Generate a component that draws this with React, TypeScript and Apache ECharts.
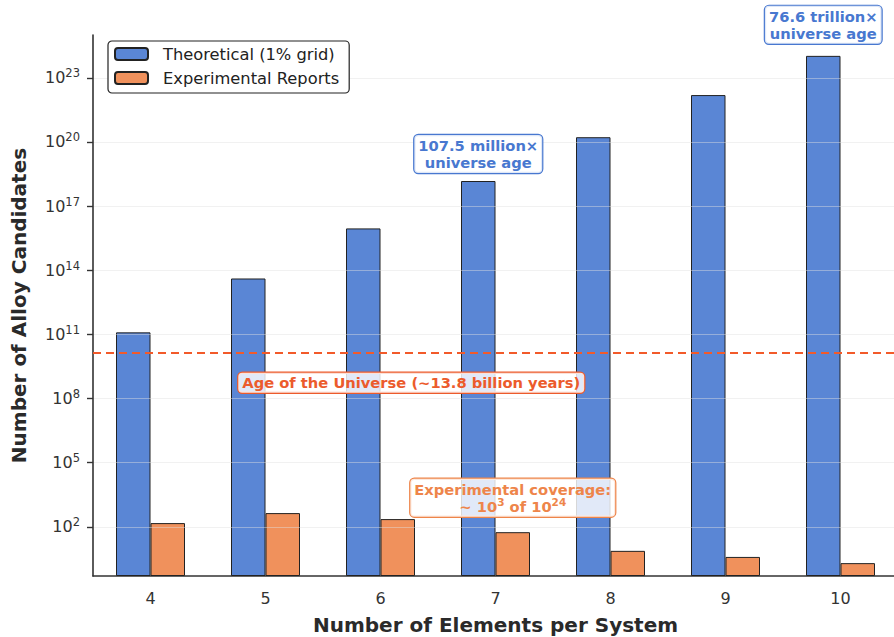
import React, { useEffect, useRef } from 'react';
import * as echarts from 'echarts';

const categories = ['4', '5', '6', '7', '8', '9', '10'];
const theoretical = [1.24e11, 4.1e13, 9.0e15, 1.4835e18, 1.66e20, 1.55e22, 1.057e24];
const experimental = [149, 437, 229, 56, 7.5, 3.9, 2.0];
const yTickValues = [1e2, 1e5, 1e8, 1e11, 1e14, 1e17, 1e20, 1e23];
const universeAge = 1.38e10;
const seriesNames = ['Theoretical (1% grid)', 'Experimental Reports'];
const yMin = 0.5;
const yMax = 1e25;
const coverageAnchor = 2300;

const FONT = 'DejaVu Sans';
const BLUE = '#5A86D5';
const ORANGE = '#F0915C';
const BLUE_TXT = '#4878D0';
const ORANGE_TXT = '#EE854A';
const RED = '#F25A2A';

export default function App() {
  const ref = useRef<HTMLDivElement>(null);
  useEffect(() => {
    const chart = echarts.init(ref.current!, undefined, { renderer: 'svg' });
    const boxLabel = (color: string, extra: any) => ({
      show: true,
      position: 'inside',
      color,
      fontFamily: FONT,
      fontWeight: 'bold',
      fontSize: 14.7,
      lineHeight: 17,
      align: 'center',
      verticalAlign: 'middle',
      backgroundColor: 'rgba(255,255,255,0.82)',
      borderColor: color,
      borderWidth: 1.2,
      borderRadius: 4,
      padding: [2, 4, 2, 4],
      ...extra,
    });
    const option: any = {
      animation: false,
      textStyle: { fontFamily: FONT },
      grid: { left: 93, top: 35, width: 805, bottom: 61, containLabel: false, outerBoundsMode: 'none' },
      legend: {
        orient: 'vertical',
        left: 108,
        top: 41,
        padding: [5, 10, 7, 6],
        itemWidth: 33,
        itemHeight: 12,
        itemGap: 8,
        borderColor: '#222',
        borderWidth: 1.2,
        borderRadius: 4,
        backgroundColor: '#fff',
        textStyle: { fontSize: 16.3, color: '#222', fontFamily: FONT, padding: [0, 0, 0, 10] },
        data: seriesNames,
      },
      xAxis: {
        type: 'category',
        data: categories,
        name: 'Number of Elements per System',
        nameLocation: 'middle',
        nameGap: 39,
        nameTextStyle: { fontSize: 20, fontWeight: 'bold', color: '#2a2a2a', fontFamily: FONT },
        axisLine: { lineStyle: { color: '#333', width: 1.6 } },
        axisTick: { alignWithLabel: true, length: 6, lineStyle: { color: '#333', width: 1.4 } },
        axisLabel: { fontSize: 16, color: '#333', margin: 14, fontFamily: FONT },
        splitLine: { show: false },
      },
      yAxis: {
        type: 'log',
        logBase: 10,
        min: yMin,
        max: yMax,
        startValue: yMin,
        z: 3,
        name: 'Number of Alloy Candidates',
        nameLocation: 'middle',
        nameGap: 64,
        nameTextStyle: { fontSize: 20, fontWeight: 'bold', color: '#2a2a2a', fontFamily: FONT },
        axisLine: { show: true, lineStyle: { color: '#333', width: 1.6 } },
        axisTick: { show: true, length: 6, customValues: yTickValues, lineStyle: { color: '#333', width: 1.4 } },
        axisLabel: {
          customValues: yTickValues,
          margin: 13,
          formatter: (v: number) => `{b|10}{s|${Math.round(Math.log10(v))}}`,
          rich: {
            b: { fontSize: 16, color: '#333', fontFamily: FONT },
            s: { fontSize: 11.5, color: '#333', fontFamily: FONT, padding: [0, 0, 9, 0] },
          },
        },
        splitLine: { show: true, lineStyle: { color: 'rgba(225,225,225,0.45)', width: 1.2 } },
        minorTick: { show: false },
      },
      series: [
        {
          name: seriesNames[0],
          type: 'bar',
          data: theoretical,
          barWidth: 34.5,
          barGap: '0%',
          itemStyle: { color: BLUE, borderColor: '#222', borderWidth: 1 },
          markLine: {
            silent: true,
            symbol: 'none',
            label: { show: false },
            lineStyle: { color: RED, type: [8, 5], width: 2 },
            data: [{ yAxis: universeAge }],
          },
          markPoint: {
            silent: true,
            symbol: 'rect',
            symbolSize: 1,
            itemStyle: { color: 'rgba(0,0,0,0)' },
            data: [
              {
                coord: [3, theoretical[3]],
                label: boxLabel(BLUE_TXT, {
                  offset: [0, -27],
                  formatter: '107.5 million×\nuniverse age',
                }),
              },
              {
                coord: [6, theoretical[6]],
                label: boxLabel(BLUE_TXT, {
                  offset: [0, -31],
                  formatter: '76.6 trillion×\nuniverse age',
                }),
              },
              {
                coord: [2, universeAge],
                label: boxLabel('#EC5B2C', {
                  offset: [48, 30],
                  padding: [2, 4, 1, 4],
                  formatter: 'Age of the Universe (~13.8 billion years)',
                }),
              },
            ],
          },
        },
        {
          name: seriesNames[1],
          type: 'bar',
          data: experimental,
          barWidth: 34.5,
          barGap: '0%',
          itemStyle: { color: ORANGE, borderColor: '#222', borderWidth: 1 },
          markPoint: {
            silent: true,
            symbol: 'rect',
            symbolSize: 1,
            itemStyle: { color: 'rgba(0,0,0,0)' },
            data: [
              {
                coord: [3, coverageAnchor],
                label: boxLabel(ORANGE_TXT, {
                  offset: [0, 0],
                  formatter: '{t|Experimental coverage:}\n{t|~ 10}{s|3}{t| of 10}{s|24}',
                  rich: {
                    t: { color: ORANGE_TXT, fontSize: 14.7, fontWeight: 'bold', fontFamily: FONT, lineHeight: 17 },
                    s: { color: ORANGE_TXT, fontSize: 10.5, fontWeight: 'bold', fontFamily: FONT, padding: [0, 0, 8, 0] },
                  },
                }),
              },
            ],
          },
        },
      ],
    };
    chart.setOption(option);
    return () => chart.dispose();
  }, []);
  return (
    <div style={{ position: 'absolute', left: 0, top: 0, width: 894, height: 637, overflow: 'hidden', background: '#fff' }}>
      <div ref={ref} style={{ width: 902, height: 637 }} />
    </div>
  );
}
